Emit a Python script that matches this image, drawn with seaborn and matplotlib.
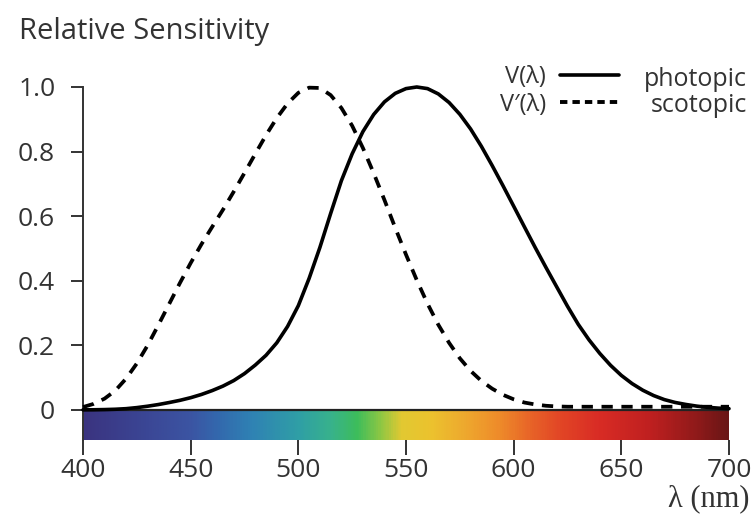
import numpy as np
import pandas as pd
import matplotlib
matplotlib.use("Agg")
import matplotlib.pyplot as plt
from matplotlib.colors import LinearSegmentedColormap
from matplotlib.lines import Line2D
import seaborn as sns

# ---- data -------------------------------------------------------------
wavelength = [400, 405, 410, 415, 420, 425, 430, 435, 440, 445, 450, 455, 460, 465,
              470, 475, 480, 485, 490, 495, 500, 505, 510, 515, 520, 525, 530, 535,
              540, 545, 550, 555, 560, 565, 570, 575, 580, 585, 590, 595, 600, 605,
              610, 615, 620, 625, 630, 635, 640, 645, 650, 655, 660, 665, 670, 675,
              680, 685, 690, 695, 700]
photopic = [0.0004, 0.0006, 0.0012, 0.0022, 0.0040, 0.0073, 0.0116, 0.0168, 0.0230,
            0.0298, 0.0380, 0.0480, 0.0600, 0.0739, 0.0910, 0.1126, 0.1390, 0.1693,
            0.2080, 0.2586, 0.3230, 0.4073, 0.5030, 0.6082, 0.7100, 0.7932, 0.8620,
            0.9149, 0.9540, 0.9803, 0.9950, 1.0000, 0.9950, 0.9786, 0.9520, 0.9154,
            0.8700, 0.8163, 0.7570, 0.6949, 0.6310, 0.5668, 0.5030, 0.4412, 0.3810,
            0.3210, 0.2650, 0.2170, 0.1750, 0.1382, 0.1070, 0.0816, 0.0610, 0.0446,
            0.0320, 0.0232, 0.0170, 0.0119, 0.0082, 0.0057, 0.0041]
scotopic = [0.009, 0.019, 0.035, 0.060, 0.097, 0.144, 0.200, 0.263, 0.328, 0.393,
            0.455, 0.513, 0.567, 0.620, 0.676, 0.734, 0.793, 0.851, 0.904, 0.949,
            0.982, 0.998, 0.997, 0.975, 0.935, 0.880, 0.811, 0.733, 0.650, 0.564,
            0.481, 0.402, 0.329, 0.264, 0.208, 0.160, 0.121, 0.090, 0.066, 0.047,
            0.033, 0.023, 0.017, 0.013, 0.011, 0.010, 0.010, 0.010, 0.010, 0.010,
            0.010, 0.010, 0.010, 0.010, 0.010, 0.010, 0.010, 0.010, 0.010, 0.010,
            0.010]
x_ticks = [400, 450, 500, 550, 600, 650, 700]
y_ticks = [0, 0.2, 0.4, 0.6, 0.8, 1.0]
y_tick_labels = ["0", "0.2", "0.4", "0.6", "0.8", "1.0"]
series_names = ["V(λ)", "V′(λ)"]
series_desc = ["photopic", "scotopic"]

# spectrum colour stops (wavelength, colour)
spec_wl = [400, 430, 450, 462, 478, 500, 515, 527, 538, 548, 562, 578, 594, 608, 622, 640, 664, 686, 700]
spec_col = ["#3a3480", "#3b4796", "#3b55a3", "#3368ad", "#2f82b4", "#2f9fa6", "#38b28c",
            "#3dbd5c", "#8cc744", "#e2c932", "#ecc22e", "#eea82e", "#ee8a2a", "#e86428",
            "#e24626", "#d92c25", "#bf2020", "#8f1a1a", "#6a1616"]

# ---- style ------------------------------------------------------------
sns.set_theme(style="white")
plt.rcParams["font.family"] = ["Open Sans", "DejaVu Sans"]
text_col = "#333333"

fig = plt.figure(figsize=(7.54, 5.16), dpi=100)
bar_h = 0.093
ax = fig.add_axes([83 / 754, 76 / 516, 646 / 754, (516 - 87 - 76) / 516])

df = pd.DataFrame({"wl": wavelength, "V": photopic, "Vp": scotopic})
sns.lineplot(data=df, x="wl", y="V", ax=ax, color="black", lw=2.6, clip_on=False, zorder=4)
sns.lineplot(data=df, x="wl", y="Vp", ax=ax, color="black", lw=2.7, clip_on=False,
             zorder=4, dashes=False)
ax.lines[-1].set_linestyle((0, (3.0, 2.3)))

# spectrum bar
xs = np.linspace(400, 700, 600)
cmap = LinearSegmentedColormap.from_list(
    "spec", [((w - 400) / 300, c) for w, c in zip(spec_wl, spec_col)])
ax.imshow(xs[np.newaxis, :], extent=[400, 700, -bar_h, 0], aspect="auto",
          cmap=cmap, vmin=400, vmax=700, zorder=1)
ax.axhline(0, color="#222222", lw=1.6, zorder=3)

ax.set_xlim(400, 700)
ax.set_ylim(-bar_h, 1.0)
ax.set_xticks(x_ticks)
ax.set_yticks(y_ticks)
ax.set_yticklabels(y_tick_labels)
ax.set_xlabel("")
ax.set_ylabel("")
for s in ["top", "right", "bottom"]:
    ax.spines[s].set_visible(False)
ax.spines["left"].set_color("#333333")
ax.spines["left"].set_linewidth(1.4)
ax.tick_params(axis="y", direction="out", length=9, width=1.4, color="#333333",
               pad=11, labelsize=19, labelcolor=text_col, left=True)
ax.tick_params(axis="x", direction="out", length=11, width=1.4, color="#333333",
               pad=2, labelsize=19, labelcolor=text_col, bottom=True)

# legend
handles = [Line2D([], [], color="black", lw=2.6),
           Line2D([], [], color="black", lw=2.8, linestyle=(0, (1.9, 1.3)))]
leg = fig.legend(handles, series_names, loc="upper left",
                 bbox_to_anchor=(500 / 754, 1 - 65 / 516), frameon=False,
                 markerfirst=False, fontsize=17, handlelength=2.5,
                 handletextpad=0.6, labelspacing=0.15, borderpad=0, borderaxespad=0)
for t in leg.get_texts():
    t.set_color(text_col)
fig.text(747 / 754, 1 - 79 / 516, series_desc[0], ha="right", va="center",
         fontsize=18, color=text_col)
fig.text(747 / 754, 1 - 105 / 516, series_desc[1], ha="right", va="center",
         fontsize=18, color=text_col)

fig.text(19 / 754, 1 - 32 / 516, "Relative Sensitivity", ha="left", va="center",
         fontsize=21, color=text_col)
fig.text(749 / 754, 1 - 499 / 516, "λ (nm)", ha="right", va="center",
         fontsize=22, color=text_col, family=["Liberation Serif", "DejaVu Serif"])

fig.savefig("out.png", dpi=100)
